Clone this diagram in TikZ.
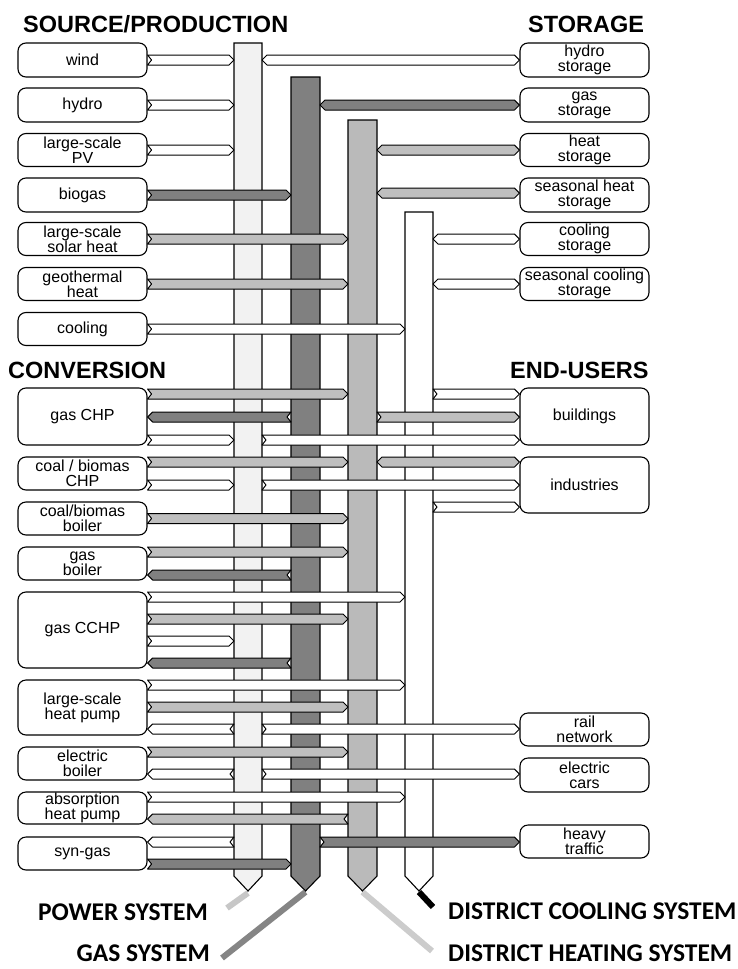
\documentclass[tikz,border=0pt]{standalone}
\usepackage{fontspec}
\usetikzlibrary{calc}
\setmainfont{Liberation Sans}
\newfontfamily\syslabelfont{Carlito}

\definecolor{pwbus}{gray}{0.95}
\definecolor{gsbus}{gray}{0.50}
\definecolor{htbus}{gray}{0.73}
\definecolor{gspipe}{gray}{0.50}
\definecolor{htpipe}{gray}{0.75}
\definecolor{pwlead}{gray}{0.78}
\definecolor{gslead}{gray}{0.52}
\definecolor{htlead}{gray}{0.80}

% one-way pipe: notched tail at #2, pointed head at #3 (only the x of #3 is used)
\newcommand\flow[3]{%
  \path[pipe,#1] let \p1=#2, \p2=#3, \n1={ifthenelse(\x2>\x1,1,-1)} in
    (\x1,{\y1+5pt}) -- ({\x2-\n1*5pt},{\y1+5pt}) -- (\x2,\y1) -- ({\x2-\n1*5pt},{\y1-5pt})
    -- (\x1,{\y1-5pt}) -- ({\x1+\n1*4pt},\y1) -- cycle;}
% two-way pipe: pointed at both ends
\newcommand\twoway[3]{%
  \path[pipe,#1] let \p1=#2, \p2=#3, \n1={ifthenelse(\x2>\x1,1,-1)} in
    (\x1,\y1) -- ({\x1+\n1*5pt},{\y1+5pt}) -- ({\x2-\n1*5pt},{\y1+5pt}) -- (\x2,\y1)
    -- ({\x2-\n1*5pt},{\y1-5pt}) -- ({\x1+\n1*5pt},{\y1-5pt}) -- cycle;}

\begin{document}
\begin{tikzpicture}[x=1pt,y=-1pt,
  box/.style={draw, rounded corners=8pt, line width=1.1pt, minimum width=129pt,
    inner sep=0pt, align=center, font=\fontsize{16}{15}\selectfont},
  hdr/.style={anchor=base west, inner sep=0pt, font=\bfseries\fontsize{23.5}{23.5}\selectfont},
  syslabel/.style={inner sep=0pt, font=\syslabelfont\bfseries\fontsize{25.5}{25.5}\selectfont},
  bus/.style={inner sep=0pt, outer sep=0pt, minimum width=28pt},
  busline/.style={draw=black, line width=1.1pt},
  pipe/.style={draw=black, line width=1pt, line join=round},
  pw/.style={fill=white},
  gs/.style={fill=gspipe},
  ht/.style={fill=htpipe},
  cl/.style={fill=white},
  lead/.style={line width=6pt}]

\useasboundingbox[fill=white] (0,0) rectangle (737,969);

% ---------- headings ----------
\node[hdr] (hsrc) at (23,32) {SOURCE/PRODUCTION};
\node[hdr] (hsto) at (528,32) {STORAGE};
\node[hdr] (hcon) at (8,378) {CONVERSION};
\node[hdr] (hend) at (510,378) {END-USERS};

% ---------- source / production ----------
\node[box, minimum height=34pt] (wind)  at (82.5,60)  {wind};
\node[box, minimum height=34pt] (hydro) at (82.5,105) {hydro};
\node[box, minimum height=33pt] (pv)    at (82.5,150) {large-scale\\PV};
\node[box, minimum height=34pt] (biogas) at (82.5,195) {biogas};
\node[box, minimum height=33pt] (solar) at (82.5,239) {large-scale\\solar heat};
\node[box, minimum height=33pt] (geo)   at (82.5,284) {geothermal\\heat};
\node[box, minimum height=33pt] (cool)  at (82.5,329) {cooling};

% ---------- conversion ----------
\node[box, minimum height=57pt] (gaschp)  at (82.5,416.5) {gas CHP};
\node[box, minimum height=33pt] (coalchp) at (82.5,473.5) {coal / biomas\\CHP};
\node[box, minimum height=33pt] (cboil)   at (82.5,518.5) {coal/biomas\\boiler};
\node[box, minimum height=33pt] (gboil)   at (82.5,563.5) {gas\\boiler};
\node[box, minimum height=76pt] (cchp)    at (82.5,630)   {gas CCHP};
\node[box, minimum height=55pt] (hpump)   at (82.5,707.5) {large-scale\\heat pump};
\node[box, minimum height=33pt] (eboil)   at (82.5,763.5) {electric\\boiler};
\node[box, minimum height=32pt] (absp)    at (82.5,808)   {absorption\\heat pump};
\node[box, minimum height=33pt] (syngas)  at (82.5,853.5) {syn-gas};

% ---------- storage ----------
\node[box, minimum height=34pt] (hst)  at (584.5,60)  {hydro\\storage};
\node[box, minimum height=34pt] (gst)  at (584.5,105) {gas\\storage};
\node[box, minimum height=33pt] (hs)   at (584.5,150) {heat\\storage};
\node[box, minimum height=34pt] (shs)  at (584.5,195) {seasonal heat\\storage};
\node[box, minimum height=33pt] (cs)   at (584.5,239) {cooling\\storage};
\node[box, minimum height=33pt] (scs)  at (584.5,284) {seasonal cooling\\storage};

% ---------- end-users ----------
\node[box, minimum height=57pt] (bld)   at (584.5,416.5) {buildings};
\node[box, minimum height=56pt] (ind)   at (584.5,485)   {industries};
\node[box, minimum height=33pt] (rail)  at (584.5,729.5) {rail\\network};
\node[box, minimum height=34pt] (cars)  at (584.5,775)   {electric\\cars};
\node[box, minimum height=33pt] (heavy) at (584.5,841.5) {heavy\\traffic};

% ---------- system buses ----------
\node[bus, minimum height=833pt] (pwb) at (248,459.5) {};
\node[bus, minimum width=29pt, minimum height=799pt] (gsb) at (305.5,476.5) {};
\node[bus, minimum width=29pt, minimum height=756pt] (htb) at (362.5,498) {};
\node[bus, minimum height=664pt] (clb) at (419,544) {};
\foreach \b/\c in {pwb/pwbus, gsb/gsbus, htb/htbus, clb/white}{
  \draw[busline, fill=\c] (\b.north west) -- (\b.south west) -- ([yshift=-15pt]\b.south)
    -- (\b.south east) -- (\b.north east) -- cycle;
  \coordinate (\b tip) at ([yshift=-15pt]\b.south);
}

% ---------- sources into the buses ----------
\flow{pw}{(wind.east)}{(pwb.west)}
\flow{pw}{(hydro.east)}{(pwb.west)}
\flow{pw}{(pv.east)}{(pwb.west)}
\flow{gs}{(biogas.east)}{(gsb.west)}
\flow{ht}{(solar.east)}{(htb.west)}
\flow{ht}{(geo.east)}{(htb.west)}
\flow{cl}{(cool.east)}{(clb.west)}

% ---------- storage links ----------
\twoway{pw}{(pwb.east |- hst.west)}{(hst.west)}
\twoway{gs}{(gsb.east |- gst.west)}{(gst.west)}
\twoway{ht}{(htb.east |- hs.west)}{(hs.west)}
\twoway{ht}{(htb.east |- 0,193)}{(shs.west)}
\twoway{cl}{(clb.east |- cs.west)}{(cs.west)}
\twoway{cl}{(clb.east |- scs.west)}{(scs.west)}

% ---------- conversion units ----------
\flow{ht}{(gaschp.east |- 0,394)}{(htb.west)}
\flow{gs}{(gsb.west |- 0,417)}{(gaschp.east)}
\flow{pw}{(gaschp.east |- 0,440)}{(pwb.west)}

\flow{ht}{(coalchp.east |- 0,462)}{(htb.west)}
\flow{pw}{(coalchp.east |- 0,485)}{(pwb.west)}

\flow{ht}{(cboil.east)}{(htb.west)}

\flow{ht}{(gboil.east |- 0,552)}{(htb.west)}
\flow{gs}{(gsb.west |- 0,575)}{(gboil.east)}

\flow{cl}{(cchp.east |- 0,597)}{(clb.west)}
\flow{ht}{(cchp.east |- 0,619)}{(htb.west)}
\flow{pw}{(cchp.east |- 0,641)}{(pwb.west)}
\flow{gs}{(gsb.west |- 0,663)}{(cchp.east)}

\flow{cl}{(hpump.east |- 0,685)}{(clb.west)}
\flow{ht}{(hpump.east |- 0,707)}{(htb.west)}
\flow{pw}{(pwb.west |- 0,729)}{(hpump.east)}

\flow{ht}{(eboil.east |- 0,752)}{(htb.west)}
\flow{pw}{(pwb.west |- 0,774)}{(eboil.east)}

\flow{cl}{(absp.east |- 0,797)}{(clb.west)}
\flow{ht}{(htb.west |- 0,819)}{(absp.east)}

\flow{pw}{(pwb.west |- 0,842)}{(syngas.east)}
\flow{gs}{(syngas.east |- 0,864)}{(gsb.west)}

% ---------- supply of the end-users ----------
\flow{cl}{(clb.east |- 0,394)}{(bld.west)}
\flow{ht}{(htb.east |- 0,417)}{(bld.west)}
\flow{pw}{(pwb.east |- 0,440)}{(bld.west)}

\twoway{ht}{(htb.east |- 0,462)}{(ind.west)}
\flow{pw}{(pwb.east |- 0,485)}{(ind.west)}
\flow{cl}{(clb.east |- 0,507)}{(ind.west)}

\flow{pw}{(pwb.east |- 0,729)}{(rail.west)}
\flow{pw}{(pwb.east |- 0,774)}{(cars.west)}
\flow{gs}{(gsb.east |- 0,842)}{(heavy.west)}

% ---------- system labels with leader lines ----------
\node[syslabel, anchor=base east] (lpw) at (208,920) {POWER SYSTEM};
\node[syslabel, anchor=base east] (lgs) at (210,961) {GAS SYSTEM};
\node[syslabel, anchor=base west] (lcl) at (448,919) {DISTRICT COOLING SYSTEM};
\node[syslabel, anchor=base west] (lht) at (448,961) {DISTRICT HEATING SYSTEM};

\coordinate (pwend) at (227,908);
\coordinate (gsend) at (222,958);
\coordinate (htend) at (432,951);
\coordinate (clend) at (433,907);

\draw[lead, pwlead] ([yshift=-2pt]pwbtip) -- (pwend);
\draw[lead, gslead] ([yshift=-1pt]gsbtip) -- (gsend);
\draw[lead, htlead] ([yshift=-1pt]htbtip) -- (htend);
\draw[lead, black] ([yshift=-1pt]clbtip) -- (clend);
\end{tikzpicture}
\end{document}
